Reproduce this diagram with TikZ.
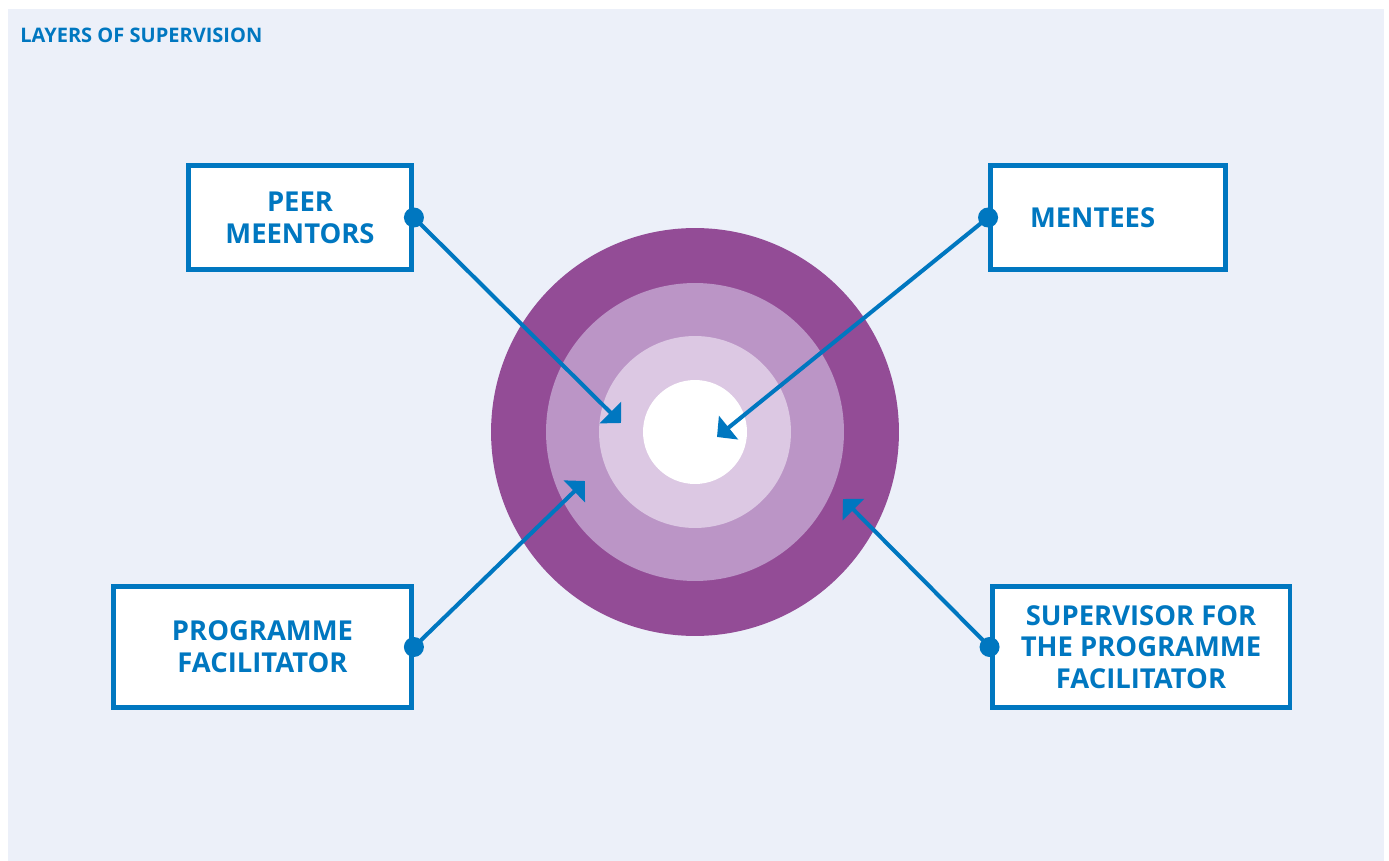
\documentclass[tikz,border=0pt]{standalone}
\usepackage{fontspec}
\setmainfont{Open Sans}
\usetikzlibrary{arrows.meta}
\definecolor{supblue}{HTML}{0077C0}
\definecolor{pagebg}{HTML}{ECF0F9}
\definecolor{ringdark}{HTML}{934C96}
\definecolor{ringmid}{HTML}{BB95C6}
\definecolor{ringlight}{HTML}{DCC8E3}

\begin{document}
\begin{tikzpicture}[x=0.02cm, y=-0.02cm,
  role/.style={draw=supblue, line width=2.8pt, fill=white, text=supblue,
    font=\fontsize{15.6}{18.1}\selectfont\bfseries, align=center, inner sep=0pt},
  pointer/.style={color=supblue, line width=2.3pt, -{Triangle[width=17pt,length=8.5pt]}},
  dot/.style={fill=supblue}
]
  \useasboundingbox (0,0) rectangle (1389,861);
  \fill[pagebg] (8,9) rectangle (1384,861);
  \node[anchor=base west, inner sep=0pt, text=supblue,
    font=\fontsize{11.4}{13}\selectfont\bfseries] (title) at (20,43) {LAYERS OF SUPERVISION};

  % the four layers
  \fill[ringdark]  (695,432) circle[radius=4.08cm];
  \fill[ringmid]   (695,432) circle[radius=2.98cm];
  \fill[ringlight] (695,432) circle[radius=1.92cm];
  \fill[white]     (695,432) circle[radius=1.04cm];

  % boxes
  \node[role, minimum width=4.46cm, minimum height=2.08cm] (peer) at (300,217.5) {PEER\\MEENTORS};
  \node[role, minimum width=4.7cm, minimum height=2.08cm, text width=3.12cm, align=left] (mentees) at (1108,217.5) {MENTEES};
  \node[role, minimum width=5.96cm, minimum height=2.42cm] (prog) at (262.5,647) {PROGRAMME\\FACILITATOR};
  \node[role, minimum width=5.96cm, minimum height=2.42cm] (sup) at (1141,647) {SUPERVISOR FOR\\THE PROGRAMME\\FACILITATOR};

  \coordinate (peertip) at (621,423);
  \coordinate (menteestip) at (717,437);
  \coordinate (progtip) at (585,481);
  \coordinate (suptip) at (843,499);

  \path[pointer]
  (peer.east) edge (peertip)
  (mentees.west) edge (menteestip)
  (prog.east) edge (progtip)
  (sup.west) edge (suptip)
  ;
  \foreach \n in {peer.east,mentees.west,prog.east,sup.west}
    \fill[dot] (\n) circle[radius=0.2cm];
\end{tikzpicture}
\end{document}
